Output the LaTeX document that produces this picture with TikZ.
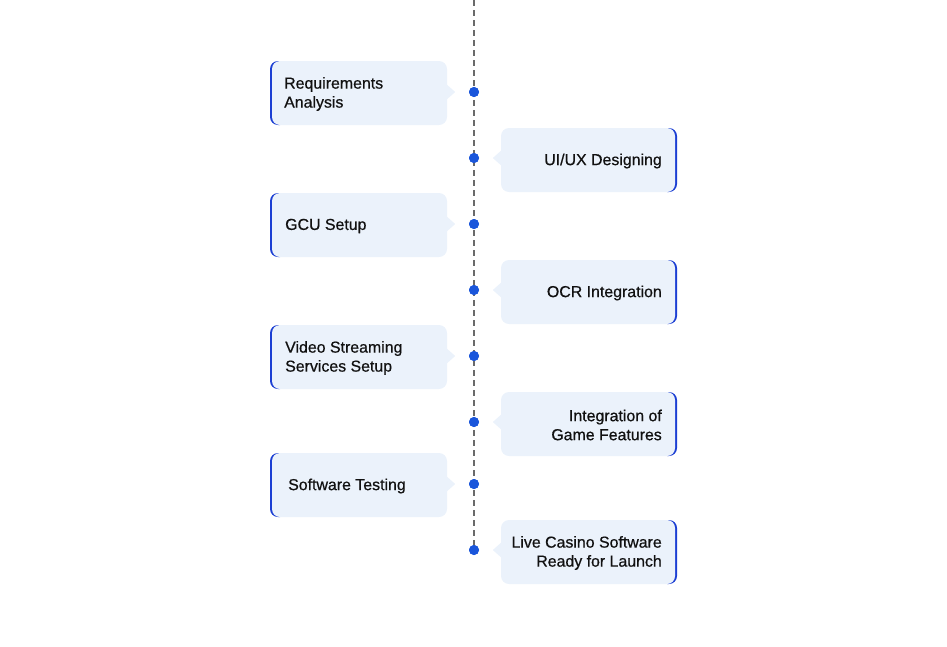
\documentclass[tikz,border=0pt]{standalone}
\usepackage{fontspec}
\setmainfont{Liberation Sans}
\newfontfamily\lblfont{Liberation Sans}[FakeBold=0.6]
\definecolor{boxfill}{HTML}{EBF2FB}
\definecolor{edgeblue}{HTML}{1C3FD3}
\definecolor{dotblue}{HTML}{1A56DB}
\definecolor{linegray}{HTML}{6A6A6A}
\definecolor{textcol}{HTML}{111111}
\begin{document}
\begin{tikzpicture}[x=1pt,y=-1pt,
  boxfg/.style={fill=boxfill, rounded corners=8pt, minimum height=64pt, inner sep=0pt, draw=none},
  dotnode/.style={circle, fill=dotblue, minimum size=10pt, inner sep=0pt},
  lbl/.style={font=\lblfont\fontsize{15.9}{19}\selectfont, text=textcol, inner sep=0pt},
  ptr/.style={fill=boxfill},
  edge/.style={fill=edgeblue, rounded corners=8pt}]
\useasboundingbox (0,0) rectangle (947,646);
% timeline
\coordinate (top) at (474,0);
\node[dotnode] (d1) at (474,92) {};
\node[dotnode] (d2) at (474,158) {};
\node[dotnode] (d3) at (474,224) {};
\node[dotnode] (d4) at (474,290) {};
\node[dotnode] (d5) at (474,356) {};
\node[dotnode] (d6) at (474,422) {};
\node[dotnode] (d7) at (474,484) {};
\node[dotnode] (d8) at (474,550) {};
\draw[linegray, line width=2pt, dash pattern=on 6pt off 4pt] (top) -- (d8.center);
\foreach \d in {d1,d2,d3,d4,d5,d6,d7,d8}{\fill[dotblue] (\d) circle (5pt);}
% blue edges (left)
\foreach \cy in {93,225,357,485}{
  \begin{scope}\clip (269,\cy-33) rectangle (280,\cy+33);
  \fill[edge] (270,\cy-32) rectangle (447,\cy+32);\end{scope}}
% blue edges (right)
\foreach \cy in {160,292,424,552}{
  \begin{scope}\clip (667,\cy-33) rectangle (678,\cy+33);
  \fill[edge] (501,\cy-32) rectangle (677,\cy+32);\end{scope}}
% left boxes
\node[boxfg, minimum width=175pt] (b1) at (359.5,93) {};
\fill[ptr] (b1.east |- d1) ++(-1,-8) -- ++(9,8) -- ++(-9,8) -- cycle;
\node[lbl, anchor=west, align=left] (t1) at (284,94) {Requirements\\Analysis};

\node[boxfg, minimum width=175pt] (b3) at (359.5,225) {};
\fill[ptr] (b3.east |- d3) ++(-1,-8) -- ++(9,8) -- ++(-9,8) -- cycle;
\node[lbl, anchor=west, align=left] (t3) at (285,226) {GCU Setup};

\node[boxfg, minimum width=175pt] (b5) at (359.5,357) {};
\fill[ptr] (b5.east |- d5) ++(-1,-8) -- ++(9,8) -- ++(-9,8) -- cycle;
\node[lbl, anchor=west, align=left] (t5) at (285,358) {Video Streaming\\Services Setup};

\node[boxfg, minimum width=175pt] (b7) at (359.5,485) {};
\fill[ptr] (b7.east |- d7) ++(-1,-8) -- ++(9,8) -- ++(-9,8) -- cycle;
\node[lbl, anchor=west, align=left] (t7) at (288,486) {Software Testing};
% right boxes
\node[boxfg, minimum width=174pt] (b2) at (588,160) {};
\fill[ptr] (b2.west |- d2) ++(1,-8) -- ++(-9,8) -- ++(9,8) -- cycle;
\node[lbl, anchor=east, align=right] (t2) at (662,161) {UI/UX Designing};

\node[boxfg, minimum width=174pt] (b4) at (588,292) {};
\fill[ptr] (b4.west |- d4) ++(1,-8) -- ++(-9,8) -- ++(9,8) -- cycle;
\node[lbl, anchor=east, align=right] (t4) at (662,293) {OCR Integration};

\node[boxfg, minimum width=174pt] (b6) at (588,424) {};
\fill[ptr] (b6.west |- d6) ++(1,-8) -- ++(-9,8) -- ++(9,8) -- cycle;
\node[lbl, anchor=east, align=right] (t6) at (662,425) {Integration of\\Game Features};

\node[boxfg, minimum width=174pt] (b8) at (588,552) {};
\fill[ptr] (b8.west |- d8) ++(1,-8) -- ++(-9,8) -- ++(9,8) -- cycle;
\node[lbl, anchor=east, align=right] (t8) at (662,553) {Live Casino Software\\Ready for Launch};
\end{tikzpicture}
\end{document}
